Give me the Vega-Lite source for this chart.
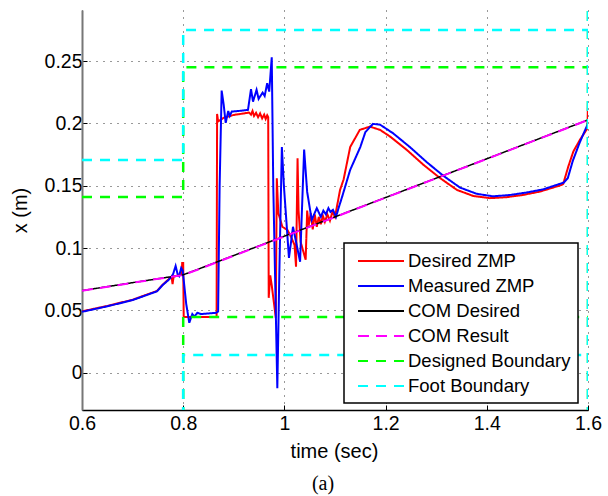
{
  "$schema": "https://vega.github.io/schema/vega-lite/v6.json",
  "width": 506,
  "height": 400,
  "autosize": {"type": "none"},
  "padding": {"left": 82, "top": 10, "right": 20, "bottom": 86},
  "title": {"text": "(a)", "orient": "bottom", "font": "Liberation Serif", "fontSize": 20, "fontWeight": "normal", "color": "#000", "anchor": "middle", "dx": -12, "offset": 13},
  "datasets": {
    "d": [
      {"series": "Desired ZMP", "seg": "a", "t": 0.600, "x": 0.0492},
      {"series": "Desired ZMP", "seg": "a", "t": 0.650, "x": 0.0535},
      {"series": "Desired ZMP", "seg": "a", "t": 0.700, "x": 0.0585},
      {"series": "Desired ZMP", "seg": "a", "t": 0.748, "x": 0.0655},
      {"series": "Desired ZMP", "seg": "a", "t": 0.758, "x": 0.0700},
      {"series": "Desired ZMP", "seg": "a", "t": 0.770, "x": 0.0745},
      {"series": "Desired ZMP", "seg": "a", "t": 0.777, "x": 0.0770},
      {"series": "Desired ZMP", "seg": "a", "t": 0.779, "x": 0.0710},
      {"series": "Desired ZMP", "seg": "a", "t": 0.781, "x": 0.0770},
      {"series": "Desired ZMP", "seg": "a", "t": 0.790, "x": 0.0780},
      {"series": "Desired ZMP", "seg": "a", "t": 0.797, "x": 0.0790},
      {"series": "Desired ZMP", "seg": "a", "t": 0.798, "x": 0.0880},
      {"series": "Desired ZMP", "seg": "a", "t": 0.800, "x": 0.0880},
      {"series": "Desired ZMP", "seg": "a", "t": 0.801, "x": 0.0447},
      {"series": "Desired ZMP", "seg": "a", "t": 0.866, "x": 0.0447},
      {"series": "Desired ZMP", "seg": "a", "t": 0.867, "x": 0.2076},
      {"series": "Desired ZMP", "seg": "a", "t": 0.869, "x": 0.2015},
      {"series": "Desired ZMP", "seg": "a", "t": 0.880, "x": 0.2045},
      {"series": "Desired ZMP", "seg": "a", "t": 0.900, "x": 0.2068},
      {"series": "Desired ZMP", "seg": "a", "t": 0.920, "x": 0.2080},
      {"series": "Desired ZMP", "seg": "a", "t": 0.930, "x": 0.2087},
      {"series": "Desired ZMP", "seg": "a", "t": 0.934, "x": 0.2070},
      {"series": "Desired ZMP", "seg": "a", "t": 0.937, "x": 0.2100},
      {"series": "Desired ZMP", "seg": "a", "t": 0.940, "x": 0.2060},
      {"series": "Desired ZMP", "seg": "a", "t": 0.944, "x": 0.2085},
      {"series": "Desired ZMP", "seg": "a", "t": 0.948, "x": 0.2050},
      {"series": "Desired ZMP", "seg": "a", "t": 0.952, "x": 0.2080},
      {"series": "Desired ZMP", "seg": "a", "t": 0.956, "x": 0.2040},
      {"series": "Desired ZMP", "seg": "a", "t": 0.960, "x": 0.2070},
      {"series": "Desired ZMP", "seg": "a", "t": 0.963, "x": 0.2035},
      {"series": "Desired ZMP", "seg": "a", "t": 0.966, "x": 0.2065},
      {"series": "Desired ZMP", "seg": "a", "t": 0.968, "x": 0.2050},
      {"series": "Desired ZMP", "seg": "a", "t": 0.969, "x": 0.0600},
      {"series": "Desired ZMP", "seg": "a", "t": 0.972, "x": 0.0780},
      {"series": "Desired ZMP", "seg": "a", "t": 0.975, "x": 0.0700},
      {"series": "Desired ZMP", "seg": "a", "t": 0.983, "x": 0.0440},
      {"series": "Desired ZMP", "seg": "a", "t": 0.985, "x": 0.1560},
      {"series": "Desired ZMP", "seg": "a", "t": 0.988, "x": 0.1280},
      {"series": "Desired ZMP", "seg": "a", "t": 0.996, "x": 0.1170},
      {"series": "Desired ZMP", "seg": "a", "t": 1.006, "x": 0.1145},
      {"series": "Desired ZMP", "seg": "a", "t": 1.013, "x": 0.1090},
      {"series": "Desired ZMP", "seg": "a", "t": 1.020, "x": 0.1025},
      {"series": "Desired ZMP", "seg": "a", "t": 1.023, "x": 0.0850},
      {"series": "Desired ZMP", "seg": "a", "t": 1.026, "x": 0.1720},
      {"series": "Desired ZMP", "seg": "a", "t": 1.028, "x": 0.1300},
      {"series": "Desired ZMP", "seg": "a", "t": 1.032, "x": 0.1050},
      {"series": "Desired ZMP", "seg": "a", "t": 1.042, "x": 0.0905},
      {"series": "Desired ZMP", "seg": "a", "t": 1.045, "x": 0.1300},
      {"series": "Desired ZMP", "seg": "a", "t": 1.048, "x": 0.1180},
      {"series": "Desired ZMP", "seg": "a", "t": 1.052, "x": 0.1280},
      {"series": "Desired ZMP", "seg": "a", "t": 1.056, "x": 0.1150},
      {"series": "Desired ZMP", "seg": "a", "t": 1.060, "x": 0.1270},
      {"series": "Desired ZMP", "seg": "a", "t": 1.064, "x": 0.1170},
      {"series": "Desired ZMP", "seg": "a", "t": 1.068, "x": 0.1250},
      {"series": "Desired ZMP", "seg": "a", "t": 1.072, "x": 0.1190},
      {"series": "Desired ZMP", "seg": "a", "t": 1.076, "x": 0.1260},
      {"series": "Desired ZMP", "seg": "a", "t": 1.080, "x": 0.1210},
      {"series": "Desired ZMP", "seg": "a", "t": 1.085, "x": 0.1270},
      {"series": "Desired ZMP", "seg": "a", "t": 1.090, "x": 0.1220},
      {"series": "Desired ZMP", "seg": "a", "t": 1.095, "x": 0.1290},
      {"series": "Desired ZMP", "seg": "a", "t": 1.100, "x": 0.1250},
      {"series": "Desired ZMP", "seg": "a", "t": 1.110, "x": 0.1466},
      {"series": "Desired ZMP", "seg": "a", "t": 1.117, "x": 0.1550},
      {"series": "Desired ZMP", "seg": "a", "t": 1.130, "x": 0.1810},
      {"series": "Desired ZMP", "seg": "a", "t": 1.149, "x": 0.1948},
      {"series": "Desired ZMP", "seg": "a", "t": 1.169, "x": 0.1974},
      {"series": "Desired ZMP", "seg": "a", "t": 1.189, "x": 0.1948},
      {"series": "Desired ZMP", "seg": "a", "t": 1.209, "x": 0.1894},
      {"series": "Desired ZMP", "seg": "a", "t": 1.242, "x": 0.1787},
      {"series": "Desired ZMP", "seg": "a", "t": 1.275, "x": 0.1667},
      {"series": "Desired ZMP", "seg": "a", "t": 1.308, "x": 0.1560},
      {"series": "Desired ZMP", "seg": "a", "t": 1.341, "x": 0.1466},
      {"series": "Desired ZMP", "seg": "a", "t": 1.373, "x": 0.1418},
      {"series": "Desired ZMP", "seg": "a", "t": 1.406, "x": 0.1400},
      {"series": "Desired ZMP", "seg": "a", "t": 1.439, "x": 0.1408},
      {"series": "Desired ZMP", "seg": "a", "t": 1.472, "x": 0.1426},
      {"series": "Desired ZMP", "seg": "a", "t": 1.505, "x": 0.1453},
      {"series": "Desired ZMP", "seg": "a", "t": 1.548, "x": 0.1506},
      {"series": "Desired ZMP", "seg": "a", "t": 1.551, "x": 0.1514},
      {"series": "Desired ZMP", "seg": "a", "t": 1.561, "x": 0.1653},
      {"series": "Desired ZMP", "seg": "a", "t": 1.571, "x": 0.1774},
      {"series": "Desired ZMP", "seg": "a", "t": 1.584, "x": 0.1868},
      {"series": "Desired ZMP", "seg": "a", "t": 1.599, "x": 0.1961},
      {"series": "Desired ZMP", "seg": "a", "t": 1.600, "x": 0.2180},

      {"series": "Measured ZMP", "seg": "a", "t": 0.600, "x": 0.0488},
      {"series": "Measured ZMP", "seg": "a", "t": 0.650, "x": 0.0532},
      {"series": "Measured ZMP", "seg": "a", "t": 0.700, "x": 0.0582},
      {"series": "Measured ZMP", "seg": "a", "t": 0.748, "x": 0.0652},
      {"series": "Measured ZMP", "seg": "a", "t": 0.760, "x": 0.0705},
      {"series": "Measured ZMP", "seg": "a", "t": 0.770, "x": 0.0740},
      {"series": "Measured ZMP", "seg": "a", "t": 0.775, "x": 0.0760},
      {"series": "Measured ZMP", "seg": "a", "t": 0.780, "x": 0.0790},
      {"series": "Measured ZMP", "seg": "a", "t": 0.785, "x": 0.0856},
      {"series": "Measured ZMP", "seg": "a", "t": 0.789, "x": 0.0790},
      {"series": "Measured ZMP", "seg": "a", "t": 0.792, "x": 0.0775},
      {"series": "Measured ZMP", "seg": "a", "t": 0.796, "x": 0.0840},
      {"series": "Measured ZMP", "seg": "a", "t": 0.799, "x": 0.0820},
      {"series": "Measured ZMP", "seg": "a", "t": 0.806, "x": 0.0550},
      {"series": "Measured ZMP", "seg": "a", "t": 0.812, "x": 0.0400},
      {"series": "Measured ZMP", "seg": "a", "t": 0.818, "x": 0.0470},
      {"series": "Measured ZMP", "seg": "a", "t": 0.822, "x": 0.0450},
      {"series": "Measured ZMP", "seg": "a", "t": 0.828, "x": 0.0480},
      {"series": "Measured ZMP", "seg": "a", "t": 0.835, "x": 0.0470},
      {"series": "Measured ZMP", "seg": "a", "t": 0.850, "x": 0.0475},
      {"series": "Measured ZMP", "seg": "a", "t": 0.865, "x": 0.0480},
      {"series": "Measured ZMP", "seg": "a", "t": 0.869, "x": 0.0490},
      {"series": "Measured ZMP", "seg": "a", "t": 0.872, "x": 0.1500},
      {"series": "Measured ZMP", "seg": "a", "t": 0.876, "x": 0.2263},
      {"series": "Measured ZMP", "seg": "a", "t": 0.880, "x": 0.2150},
      {"series": "Measured ZMP", "seg": "a", "t": 0.884, "x": 0.2004},
      {"series": "Measured ZMP", "seg": "a", "t": 0.889, "x": 0.2100},
      {"series": "Measured ZMP", "seg": "a", "t": 0.892, "x": 0.2060},
      {"series": "Measured ZMP", "seg": "a", "t": 0.896, "x": 0.2095},
      {"series": "Measured ZMP", "seg": "a", "t": 0.910, "x": 0.2100},
      {"series": "Measured ZMP", "seg": "a", "t": 0.928, "x": 0.2108},
      {"series": "Measured ZMP", "seg": "a", "t": 0.934, "x": 0.2274},
      {"series": "Measured ZMP", "seg": "a", "t": 0.938, "x": 0.2175},
      {"series": "Measured ZMP", "seg": "a", "t": 0.945, "x": 0.2269},
      {"series": "Measured ZMP", "seg": "a", "t": 0.949, "x": 0.2197},
      {"series": "Measured ZMP", "seg": "a", "t": 0.957, "x": 0.2247},
      {"series": "Measured ZMP", "seg": "a", "t": 0.961, "x": 0.2220},
      {"series": "Measured ZMP", "seg": "a", "t": 0.966, "x": 0.2322},
      {"series": "Measured ZMP", "seg": "a", "t": 0.970, "x": 0.2255},
      {"series": "Measured ZMP", "seg": "a", "t": 0.975, "x": 0.2531},
      {"series": "Measured ZMP", "seg": "a", "t": 0.978, "x": 0.1500},
      {"series": "Measured ZMP", "seg": "a", "t": 0.986, "x": -0.0125},
      {"series": "Measured ZMP", "seg": "a", "t": 0.990, "x": 0.0800},
      {"series": "Measured ZMP", "seg": "a", "t": 0.995, "x": 0.1810},
      {"series": "Measured ZMP", "seg": "a", "t": 0.999, "x": 0.1500},
      {"series": "Measured ZMP", "seg": "a", "t": 1.009, "x": 0.0920},
      {"series": "Measured ZMP", "seg": "a", "t": 1.017, "x": 0.1170},
      {"series": "Measured ZMP", "seg": "a", "t": 1.031, "x": 0.0890},
      {"series": "Measured ZMP", "seg": "a", "t": 1.039, "x": 0.1790},
      {"series": "Measured ZMP", "seg": "a", "t": 1.045, "x": 0.1450},
      {"series": "Measured ZMP", "seg": "a", "t": 1.054, "x": 0.1225},
      {"series": "Measured ZMP", "seg": "a", "t": 1.064, "x": 0.1320},
      {"series": "Measured ZMP", "seg": "a", "t": 1.072, "x": 0.1250},
      {"series": "Measured ZMP", "seg": "a", "t": 1.077, "x": 0.1300},
      {"series": "Measured ZMP", "seg": "a", "t": 1.082, "x": 0.1270},
      {"series": "Measured ZMP", "seg": "a", "t": 1.087, "x": 0.1320},
      {"series": "Measured ZMP", "seg": "a", "t": 1.091, "x": 0.1290},
      {"series": "Measured ZMP", "seg": "a", "t": 1.096, "x": 0.1306},
      {"series": "Measured ZMP", "seg": "a", "t": 1.102, "x": 0.1250},
      {"series": "Measured ZMP", "seg": "a", "t": 1.107, "x": 0.1320},
      {"series": "Measured ZMP", "seg": "a", "t": 1.114, "x": 0.1410},
      {"series": "Measured ZMP", "seg": "a", "t": 1.130, "x": 0.1627},
      {"series": "Measured ZMP", "seg": "a", "t": 1.150, "x": 0.1810},
      {"series": "Measured ZMP", "seg": "a", "t": 1.160, "x": 0.1930},
      {"series": "Measured ZMP", "seg": "a", "t": 1.175, "x": 0.1996},
      {"series": "Measured ZMP", "seg": "a", "t": 1.189, "x": 0.1990},
      {"series": "Measured ZMP", "seg": "a", "t": 1.215, "x": 0.1920},
      {"series": "Measured ZMP", "seg": "a", "t": 1.248, "x": 0.1810},
      {"series": "Measured ZMP", "seg": "a", "t": 1.281, "x": 0.1690},
      {"series": "Measured ZMP", "seg": "a", "t": 1.314, "x": 0.1580},
      {"series": "Measured ZMP", "seg": "a", "t": 1.347, "x": 0.1485},
      {"series": "Measured ZMP", "seg": "a", "t": 1.380, "x": 0.1435},
      {"series": "Measured ZMP", "seg": "a", "t": 1.412, "x": 0.1415},
      {"series": "Measured ZMP", "seg": "a", "t": 1.445, "x": 0.1425},
      {"series": "Measured ZMP", "seg": "a", "t": 1.478, "x": 0.1445},
      {"series": "Measured ZMP", "seg": "a", "t": 1.511, "x": 0.1470},
      {"series": "Measured ZMP", "seg": "a", "t": 1.552, "x": 0.1525},
      {"series": "Measured ZMP", "seg": "a", "t": 1.560, "x": 0.1560},
      {"series": "Measured ZMP", "seg": "a", "t": 1.570, "x": 0.1700},
      {"series": "Measured ZMP", "seg": "a", "t": 1.583, "x": 0.1840},
      {"series": "Measured ZMP", "seg": "a", "t": 1.600, "x": 0.2000},

      {"series": "COM Desired", "seg": "a", "t": 0.60, "x": 0.0658},
      {"series": "COM Desired", "seg": "a", "t": 0.70, "x": 0.0722},
      {"series": "COM Desired", "seg": "a", "t": 0.78, "x": 0.0772},
      {"series": "COM Desired", "seg": "a", "t": 0.80, "x": 0.0785},
      {"series": "COM Desired", "seg": "a", "t": 0.82, "x": 0.0815},
      {"series": "COM Desired", "seg": "a", "t": 0.85, "x": 0.0862},
      {"series": "COM Desired", "seg": "a", "t": 0.90, "x": 0.0940},
      {"series": "COM Desired", "seg": "a", "t": 1.00, "x": 0.1095},
      {"series": "COM Desired", "seg": "a", "t": 1.20, "x": 0.1405},
      {"series": "COM Desired", "seg": "a", "t": 1.40, "x": 0.1716},
      {"series": "COM Desired", "seg": "a", "t": 1.60, "x": 0.2028},

      {"series": "COM Result", "seg": "a", "t": 0.60, "x": 0.0657},
      {"series": "COM Result", "seg": "a", "t": 0.70, "x": 0.0721},
      {"series": "COM Result", "seg": "a", "t": 0.78, "x": 0.0771},
      {"series": "COM Result", "seg": "a", "t": 0.80, "x": 0.0784},
      {"series": "COM Result", "seg": "a", "t": 0.82, "x": 0.0813},
      {"series": "COM Result", "seg": "a", "t": 0.85, "x": 0.0860},
      {"series": "COM Result", "seg": "a", "t": 0.90, "x": 0.0938},
      {"series": "COM Result", "seg": "a", "t": 1.00, "x": 0.1093},
      {"series": "COM Result", "seg": "a", "t": 1.20, "x": 0.1404},
      {"series": "COM Result", "seg": "a", "t": 1.40, "x": 0.1715},
      {"series": "COM Result", "seg": "a", "t": 1.60, "x": 0.2027},

      {"series": "Designed Boundary", "seg": "up", "t": 0.6, "x": 0.141},
      {"series": "Designed Boundary", "seg": "up", "t": 0.8, "x": 0.141},
      {"series": "Designed Boundary", "seg": "up", "t": 0.8, "x": 0.245},
      {"series": "Designed Boundary", "seg": "up", "t": 1.6, "x": 0.245},
      {"series": "Designed Boundary", "seg": "lo", "t": 0.8, "x": -0.05},
      {"series": "Designed Boundary", "seg": "lo", "t": 0.8, "x": 0.0447},
      {"series": "Designed Boundary", "seg": "lo", "t": 1.6, "x": 0.0447},
      {"series": "Designed Boundary", "seg": "end", "t": 1.6, "x": -0.05},
      {"series": "Designed Boundary", "seg": "end", "t": 1.6, "x": 0.35},

      {"series": "Foot Boundary", "seg": "up", "t": 0.6, "x": 0.1707},
      {"series": "Foot Boundary", "seg": "up", "t": 0.8, "x": 0.1707},
      {"series": "Foot Boundary", "seg": "up", "t": 0.8, "x": 0.275},
      {"series": "Foot Boundary", "seg": "up", "t": 1.6, "x": 0.275},
      {"series": "Foot Boundary", "seg": "lo", "t": 0.8, "x": -0.05},
      {"series": "Foot Boundary", "seg": "lo", "t": 0.8, "x": 0.0142},
      {"series": "Foot Boundary", "seg": "lo", "t": 1.6, "x": 0.0142},
      {"series": "Foot Boundary", "seg": "end", "t": 1.6, "x": -0.05},
      {"series": "Foot Boundary", "seg": "end", "t": 1.6, "x": 0.35}
    ]
  },
  "data": {"name": "d"},
  "encoding": {
    "x": {"field": "t", "type": "quantitative", "title": "time (sec)",
      "scale": {"domain": [0.6, 1.6], "nice": false, "zero": false},
      "axis": {"values": [0.6, 0.8, 1.0, 1.2, 1.4, 1.6], "format": "~g", "grid": true, "labelFlush": false,
        "titleX": 252, "titleY": 47, "titleBaseline": "alphabetic", "labelPadding": 9}},
    "y": {"field": "x", "type": "quantitative", "title": "x (m)",
      "scale": {"domain": [-0.03, 0.291], "nice": false, "zero": false},
      "axis": {"values": [0, 0.05, 0.1, 0.15, 0.2, 0.25], "format": "~g", "grid": true, "labelFlush": false,
        "titleX": -52, "titleY": 200, "labelPadding": 5, "domainColor": "#777", "domainWidth": 2}},
    "color": {"field": "series", "type": "nominal", "title": null,
      "scale": {"domain": ["Desired ZMP", "Measured ZMP", "COM Desired", "COM Result", "Designed Boundary", "Foot Boundary"],
        "range": ["#ff0000", "#0000ff", "#000000", "#ff00ff", "#00ff00", "#00ffff"]}},
    "strokeDash": {"field": "series", "type": "nominal", "title": null,
      "scale": {"domain": ["Desired ZMP", "Measured ZMP", "COM Desired", "COM Result", "Designed Boundary", "Foot Boundary"],
        "range": [[1, 0], [1, 0], [1, 0], [11, 7], [10, 8], [10, 8]]}},
    "detail": {"field": "seg"},
    "order": {"value": null}
  },
  "layer": [
    {"transform": [{"filter": "datum.series == 'Desired ZMP'"}], "mark": {"type": "line", "strokeWidth": 2, "clip": true}},
    {"transform": [{"filter": "datum.series == 'Measured ZMP'"}], "mark": {"type": "line", "strokeWidth": 2, "clip": true}},
    {"transform": [{"filter": "datum.series == 'COM Desired'"}], "mark": {"type": "line", "strokeWidth": 1.5, "clip": true}},
    {"transform": [{"filter": "datum.series == 'COM Result'"}], "mark": {"type": "line", "strokeWidth": 2, "clip": true}},
    {"transform": [{"filter": "datum.series == 'Designed Boundary'"}], "mark": {"type": "line", "strokeWidth": 2.5, "clip": true}},
    {"transform": [{"filter": "datum.series == 'Foot Boundary'"}], "mark": {"type": "line", "strokeWidth": 2.5, "clip": true}}
  ],
  "config": {
    "view": {"stroke": null},
    "font": "Liberation Sans",
    "axis": {
      "labelFont": "Liberation Sans", "labelFontSize": 19.5, "labelColor": "#000",
      "titleFont": "Liberation Sans", "titleFontSize": 20, "titleFontWeight": "normal", "titleColor": "#000",
      "domainColor": "#000", "domainWidth": 1.5,
      "tickColor": "#000", "tickSize": -5, "tickWidth": 1,
      "gridColor": "#000", "gridDash": [1, 6], "gridWidth": 1, "gridOpacity": 0.8
    },
    "legend": {
      "orient": "none", "legendX": 262, "legendY": 233,
      "strokeColor": "#000", "strokeWidth": 1.5, "fillColor": "#fff",
      "padding": 7, "symbolType": "M-2.3,0H2.3", "symbolSize": 400, "symbolStrokeWidth": 2,
      "labelFont": "Liberation Sans", "labelFontSize": 18.5, "labelColor": "#000", "labelOffset": 16,
      "rowPadding": 4, "symbolOffset": 19, "labelLimit": 300
    }
  }
}
